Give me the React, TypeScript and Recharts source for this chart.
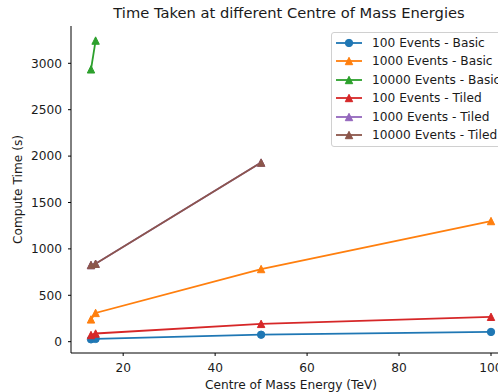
import React from "react";
import { LineChart, Line, XAxis, YAxis } from "recharts";

const energies = [13, 14, 50, 100];
const basic100 = [25, 30, 75, 105];
const basic1000 = [240, 310, 783, 1300];
const basic10000 = [2935, 3245, null, null];
const tiled100 = [72, 88, 192, 268];
const tiled1000 = [826, 840, 1930, null];
const tiled10000 = [826, 840, 1930, null];
const xTicks = [20, 40, 60, 80, 100];
const yTicks = [0, 500, 1000, 1500, 2000, 2500, 3000];

const seriesDefs = [
  { key: "basic100", name: "100 Events - Basic", color: "#1f77b4", marker: "circle", values: basic100 },
  { key: "basic1000", name: "1000 Events - Basic", color: "#ff7f0e", marker: "triangle", values: basic1000 },
  { key: "basic10000", name: "10000 Events - Basic", color: "#2ca02c", marker: "triangle", values: basic10000 },
  { key: "tiled100", name: "100 Events - Tiled", color: "#d62728", marker: "triangle", values: tiled100 },
  { key: "tiled1000", name: "1000 Events - Tiled", color: "#9467bd", marker: "triangle", values: tiled1000 },
  { key: "tiled10000", name: "10000 Events - Tiled", color: "#8c564b", marker: "triangle", values: tiled10000 },
];

const data = energies.map((x, i) => {
  const row: Record<string, number | null> = { x };
  seriesDefs.forEach((s) => {
    row[s.key] = s.values[i];
  });
  return row;
});

const FONT = "'DejaVu Sans', sans-serif";
const FS = 12.2;
const TXT = "#1a1a1a";
const R = 3.7;

function Marker({ cx, cy, color, marker }: any) {
  if (cx == null || cy == null || isNaN(cx) || isNaN(cy)) return null;
  if (marker === "circle") {
    return <circle cx={cx} cy={cy} r={R} fill={color} stroke={color} strokeWidth={1} />;
  }
  const pts = `${cx},${cy - R} ${cx - R},${cy + R} ${cx + R},${cy + R}`;
  return <polygon points={pts} fill={color} stroke={color} strokeWidth={1} strokeLinejoin="miter" />;
}

export default function App() {
  return (
    <div style={{ position: "absolute", left: 0, top: 0, width: 498, height: 392, overflow: "hidden", background: "#fff" }}>
      <LineChart
        width={530}
        height={392}
        data={data}
        margin={{ top: 26, right: 19, bottom: 0, left: 11 }}
        style={{ fontFamily: FONT }}
      >
        <XAxis
          dataKey="x"
          type="number"
          domain={[8.65, 104.35]}
          ticks={xTicks}
          allowDataOverflow
          height={39}
          tickSize={3}
          tickMargin={7}
          stroke="#000"
          tick={{ fill: TXT, fontSize: FS, fontFamily: FONT }}
          tickLine={{ stroke: "#000" }}
          axisLine={{ stroke: "#000", strokeWidth: 1 }}
          label={(p: any) => {
            const vb = p.viewBox || {};
            return (
              <text
                x={291}
                y={(vb.y || 353) + 32}
                textAnchor="middle"
                dominantBaseline="central"
                fontSize={FS}
                fontFamily={FONT}
                fill={TXT}
              >
                Centre of Mass Energy (TeV)
              </text>
            );
          }}
        />
        <XAxis
          xAxisId="top"
          orientation="top"
          dataKey="x"
          type="number"
          domain={[8.65, 104.35]}
          allowDataOverflow
          height={0}
          tick={false}
          tickLine={false}
          axisLine={{ stroke: "#000", strokeWidth: 1 }}
        />
        <YAxis
          type="number"
          domain={[-122, 3402]}
          ticks={yTicks}
          allowDataOverflow
          width={60}
          tickSize={3}
          tickMargin={6}
          stroke="#000"
          tick={{ fill: TXT, fontSize: FS, fontFamily: FONT }}
          tickLine={{ stroke: "#000" }}
          axisLine={{ stroke: "#000", strokeWidth: 1 }}
          label={(p: any) => {
            const vb = p.viewBox || {};
            const cy = (vb.y || 26) + (vb.height || 327) / 2;
            return (
              <text
                x={18}
                y={cy}
                transform={`rotate(-90, 18, ${cy})`}
                textAnchor="middle"
                dominantBaseline="central"
                fontSize={FS}
                fontFamily={FONT}
                fill={TXT}
              >
                Compute Time (s)
              </text>
            );
          }}
        />
        {seriesDefs.map((s) => (
          <Line
            key={s.key}
            dataKey={s.key}
            name={s.name}
            type="linear"
            stroke={s.color}
            strokeWidth={1.8}
            isAnimationActive={false}
            connectNulls={false}
            dot={(p: any) => <Marker key={`${s.key}-${p.index}`} cx={p.cx} cy={p.cy} color={s.color} marker={s.marker} />}
            activeDot={false}
          />
        ))}
      </LineChart>
      <div
        style={{
          position: "absolute",
          left: 0,
          width: 578,
          top: 4,
          textAlign: "center",
          fontFamily: FONT,
          fontSize: 14.7,
          color: TXT,
          lineHeight: "18px",
          whiteSpace: "nowrap",
        }}
      >
        Time Taken at different Centre of Mass Energies
      </div>
      <div
        style={{
          position: "absolute",
          left: 331,
          top: 32,
          width: 200,
          height: 115,
          border: "1px solid #d0d0d0",
          borderRadius: 3,
          background: "rgba(255,255,255,0.8)",
          boxSizing: "border-box",
          fontFamily: FONT,
          fontSize: FS,
          color: TXT,
        }}
      >
        {seriesDefs.map((s, i) => (
          <div
            key={s.key}
            style={{ position: "absolute", left: 0, top: 1 + i * 18.4, height: 18, display: "flex", alignItems: "center", whiteSpace: "nowrap" }}
          >
            <svg width={40} height={18} style={{ display: "block" }}>
              <line x1={4} x2={30} y1={9} y2={9} stroke={s.color} strokeWidth={1.8} />
              <Marker cx={17} cy={9} color={s.color} marker={s.marker} />
            </svg>
            <span>{s.name}</span>
          </div>
        ))}
      </div>
    </div>
  );
}
